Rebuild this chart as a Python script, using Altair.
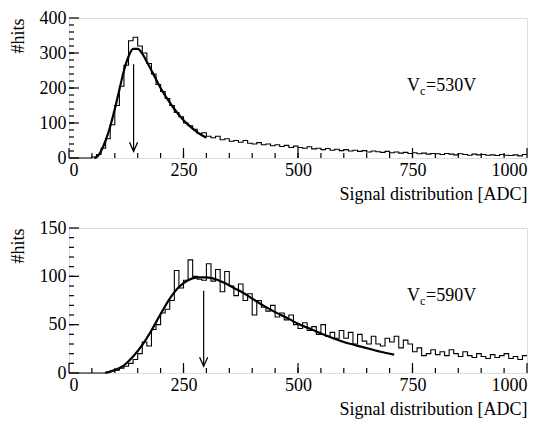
import altair as alt
import pandas as pd

# ---------------- data ----------------
bin_edges = list(range(0, 1000, 10))

top_hist = [0, 0, 0, 0, 0, 3, 10, 28, 55, 95,
            150, 205, 265, 335, 345, 320, 300, 270, 240, 210,
            190, 170, 150, 130, 118, 100, 92, 82, 70, 72,
            62, 58, 62, 52, 55, 48, 50, 45, 50, 42,
            40, 44, 38, 40, 35, 38, 33, 36, 30, 34,
            30, 28, 32, 26, 28, 24, 27, 22, 25, 21,
            24, 20, 22, 19, 21, 17, 20, 18, 16, 19,
            15, 17, 14, 16, 13, 15, 12, 14, 11, 13,
            12, 10, 13, 11, 9, 12, 10, 8, 11, 9,
            10, 8, 9, 7, 10, 8, 7, 9, 6, 10]

bot_hist = [0, 0, 0, 0, 0, 0, 0, 0, 1, 2,
            3, 5, 7, 10, 14, 20, 32, 28, 45, 50,
            62, 66, 75, 106, 88, 96, 117, 100, 97, 96,
            113, 95, 107, 84, 105, 90, 80, 92, 75, 82,
            60, 75, 68, 64, 70, 58, 62, 55, 60, 50,
            46, 52, 44, 48, 40, 50, 38, 42, 36, 44,
            36, 42, 30, 40, 33, 30, 38, 30, 28, 36,
            32, 38, 26, 34, 30, 22, 26, 18, 20, 24,
            19, 22, 18, 24, 20, 17, 22, 18, 16, 20,
            17, 15, 19, 16, 18, 20, 15, 17, 14, 18]

top_fit_x = [55, 60, 70, 80, 90, 100, 110, 120, 130, 140, 150, 160, 170, 180,
             190, 200, 215, 230, 250, 270, 290, 300]
top_fit_y = [0, 2, 20, 50, 90, 140, 195, 250, 290, 312, 312, 298, 275, 250,
             225, 200, 168, 140, 108, 84, 65, 58]

bot_fit_x = [80, 100, 120, 140, 160, 180, 200, 220, 240, 260, 280, 300, 320,
             340, 360, 380, 400, 420, 450, 480, 500, 530, 560, 600, 640, 680, 710]
bot_fit_y = [0, 3, 8, 17, 29, 44, 61, 77, 89, 96, 99, 99, 97,
             93, 88, 83, 77, 71, 63, 56, 51, 45, 39, 32, 27, 22, 19]

top_arrow = {"x": 141, "y_from": 268, "y_to": 19}
bot_arrow = {"x": 294, "y_from": 85, "y_to": 7}

top_label = {"x": 738, "y": 192, "v": "=530V"}
bot_label = {"x": 738, "y": 74, "v": "=590V"}

x_major = [0, 250, 500, 750, 1000]
x_minor = list(range(50, 1000, 50))
top_y_major = [0, 100, 200, 300, 400]
top_y_minor = list(range(20, 400, 20))
bot_y_major = [0, 50, 100, 150]
bot_y_minor = list(range(10, 150, 10))

# ---------------- layout / style ----------------
W = 458
FONT = "Liberation Serif"
FS = 18
ARROW_PATH = "M-0.45,-1L0,0L0.45,-1"


def panel(hist, fit_x, fit_y, ymax, y_major, y_minor, arrow, label, H):
    xs = alt.Scale(domain=[0, 1000], nice=False, zero=False)
    ys = alt.Scale(domain=[0, ymax], nice=False)
    xa = alt.Axis(
        values=x_major, format="d", title="Signal distribution [ADC]",
        titleAnchor="end", ticks=False, domain=False, grid=False,
        labelPadding=3, labelFont=FONT, labelFontSize=FS, titleFont=FONT,
        titleFontSize=FS, titleFontWeight="normal", titlePadding=6,
        labelColor="black", titleColor="black")
    ya = alt.Axis(
        values=y_major, format="d", title="#hits", titleAnchor="end",
        ticks=False, domain=False, grid=False, labelPadding=3,
        labelFont=FONT, labelFontSize=FS, titleFont=FONT, titleFontSize=FS,
        titleFontWeight="normal", titlePadding=12, labelColor="black",
        titleColor="black")

    def X(f):
        return alt.X(f, scale=xs, axis=xa)

    def Y(f):
        return alt.Y(f, scale=ys, axis=ya)

    hdf = pd.DataFrame({"adc": bin_edges + [1000], "hits": hist + [hist[-1]]})
    hist_layer = alt.Chart(hdf).mark_line(
        interpolate="step-after", color="black", strokeWidth=1.1
    ).encode(x=X("adc:Q"), y=Y("hits:Q"))

    fdf = pd.DataFrame({"adc": fit_x, "hits": fit_y})
    fit_layer = alt.Chart(fdf).mark_line(
        interpolate="monotone", color="black", strokeWidth=2.2
    ).encode(x=X("adc:Q"), y=Y("hits:Q"))

    adf = pd.DataFrame({"adc": [arrow["x"]], "hits": [arrow["y_from"]],
                        "y2": [arrow["y_to"]]})
    arrow_line = alt.Chart(adf).mark_rule(color="black", strokeWidth=1.2).encode(
        x=X("adc:Q"), y=Y("hits:Q"), y2="y2:Q")
    arrow_head = alt.Chart(adf).mark_point(
        shape=ARROW_PATH, filled=False, color="black", size=324,
        strokeWidth=1.3, opacity=1
    ).encode(x=X("adc:Q"), y=Y("y2:Q"))

    ldf = pd.DataFrame({"adc": [label["x"]], "hits": [label["y"]],
                        "v": [label["v"]]})
    base_t = alt.Chart(ldf).encode(x=X("adc:Q"), y=Y("hits:Q"))
    t_v = base_t.mark_text(text="V", align="left", baseline="alphabetic",
                           font=FONT, fontSize=FS, color="black")
    t_c = base_t.mark_text(text="c", align="left", baseline="alphabetic",
                           font=FONT, fontSize=12, dx=13, dy=4, color="black")
    t_rest = base_t.mark_text(align="left", baseline="alphabetic", font=FONT,
                              fontSize=FS, dx=19, color="black").encode(
        text="v:N")

    xmj = alt.Chart(pd.DataFrame({"adc": x_major})).mark_rule(
        color="black", strokeWidth=1.2).encode(
        x=X("adc:Q"), y=alt.value(H), y2=alt.value(H - 10))
    xmn = alt.Chart(pd.DataFrame({"adc": x_minor})).mark_rule(
        color="black", strokeWidth=1.2).encode(
        x=X("adc:Q"), y=alt.value(H), y2=alt.value(H - 5))
    ymj = alt.Chart(pd.DataFrame({"hits": y_major})).mark_rule(
        color="black", strokeWidth=1.2).encode(
        y=Y("hits:Q"), x=alt.value(0), x2=alt.value(10))
    ymn = alt.Chart(pd.DataFrame({"hits": y_minor})).mark_rule(
        color="black", strokeWidth=1.2).encode(
        y=Y("hits:Q"), x=alt.value(0), x2=alt.value(5))

    return alt.layer(hist_layer, fit_layer, arrow_line, arrow_head,
                     t_v, t_c, t_rest, xmj, xmn, ymj, ymn).properties(
        width=W, height=H)


top = panel(top_hist, top_fit_x, top_fit_y, 400, top_y_major, top_y_minor,
            top_arrow, top_label, 140)
bot = panel(bot_hist, bot_fit_x, bot_fit_y, 150, bot_y_major, bot_y_minor,
            bot_arrow, bot_label, 145)

chart = alt.vconcat(top, bot, spacing=14).properties(
    padding={"left": 0, "top": 0, "right": 0, "bottom": 0}
).configure_view(stroke="black", strokeWidth=1.5).configure(background="white")

chart.save("out.html", embed_options={"renderer": "svg", "actions": False})
